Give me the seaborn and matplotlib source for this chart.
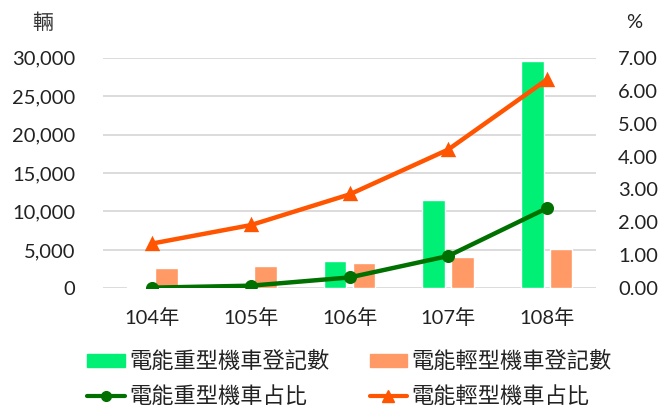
import matplotlib
matplotlib.use("Agg")
import matplotlib.pyplot as plt
import seaborn as sns
import pandas as pd

years = ["104年", "105年", "106年", "107年", "108年"]
heavy_count = [120, 250, 3550, 11540, 29570]
light_count = [2690, 2950, 3260, 4040, 5110]
heavy_pct = [0.02, 0.08, 0.33, 0.98, 2.43]
light_pct = [1.36, 1.92, 2.85, 4.21, 6.33]

bar_names = ["電能重型機車登記數", "電能輕型機車登記數"]
line_names = ["電能重型機車占比", "電能輕型機車占比"]

sns.set_style("white")
plt.rcParams['font.family'] = ['Lato', 'Noto Sans CJK TC']

bars = pd.DataFrame({
    "year": years * 2,
    "count": heavy_count + light_count,
    "series": [bar_names[0]] * 5 + [bar_names[1]] * 5,
})
lines = pd.DataFrame({
    "year": years * 2,
    "pct": heavy_pct + light_pct,
    "series": [line_names[0]] * 5 + [line_names[1]] * 5,
})

fig = plt.figure(figsize=(6.62, 4.07), dpi=100)
ax = fig.add_axes([0.1556, 0.2916, 0.7447, 0.5666])

sns.barplot(data=bars, x="year", y="count", hue="series", order=years,
            palette=["#00F076", "#FF9966"], width=0.588, gap=0.22,
            saturation=1, ax=ax, legend=False)
ax.set_ylim(0, 30000)
ax.set_yticks(range(0, 30001, 5000))
ax.set_yticklabels([f"{v:,}" for v in range(0, 30001, 5000)])
ax.yaxis.grid(True, color="#D9D9D9", linewidth=1.3)
ax.set_axisbelow(True)

ax2 = ax.twinx()
sns.pointplot(data=lines, x="year", y="pct", hue="series", order=years,
              palette=["#007000", "#FF5400"], markers=["o", "^"],
              linestyles=["-", "-"], linewidth=3.2, markersize=7,
              ax=ax2, legend=False)
ax2.set_ylim(0, 7)
ax2.set_yticks(range(0, 8))
ax2.set_yticklabels([f"{v:.2f}" for v in range(0, 8)])

for a in (ax, ax2):
    for s in a.spines.values():
        s.set_visible(False)
    a.set_xlabel("")
    a.set_ylabel("")
ax.tick_params(axis="y", length=0, pad=20, labelsize=14.5, labelcolor="#222222")
ax.tick_params(axis="x", length=0, pad=14, labelsize=14.5, labelcolor="#222222")
ax2.tick_params(axis="y", length=0, pad=16, labelsize=14.5, labelcolor="#222222")
ax.set_xlim(-0.5, 4.5)

fig.text(43 / 662, 1 - 23 / 407, "輛", fontsize=15, ha="center", va="center", color="#333333")
fig.text(634 / 662, 1 - 23 / 407, "%", fontsize=14.5, ha="center", va="center", color="#222222")

g_patch = plt.Rectangle((0, 0), 1, 1, color="#00F076")
o_patch = plt.Rectangle((0, 0), 1, 1, color="#FF9966")
g_line = plt.Line2D([], [], color="#007000", marker="o", linewidth=3, markersize=7)
o_line = plt.Line2D([], [], color="#FF5400", marker="^", linewidth=3, markersize=8)
fig.legend([g_patch, g_line, o_patch, o_line],
           [bar_names[0], line_names[0], bar_names[1], line_names[1]],
           ncol=2, loc="center", bbox_to_anchor=(0.528, 0.069),
           frameon=False, fontsize=16, handlelength=1.7, handleheight=0.55,
           handletextpad=0.2, columnspacing=1.8, labelspacing=0.62,
           labelcolor="#222222")

fig.savefig("out.png", dpi=100)
